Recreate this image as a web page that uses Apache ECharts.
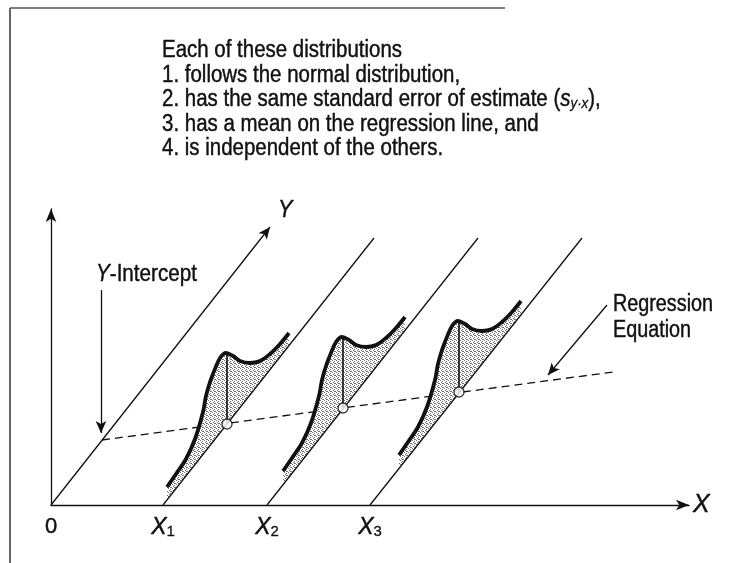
<!DOCTYPE html>
<html><head><meta charset="utf-8">
<script src="https://cdn.jsdelivr.net/npm/echarts@6/dist/echarts.min.js"></script>
<style>html,body{margin:0;padding:0;background:#fff}#c{width:732px;height:563px}</style>
</head><body><div id="c"></div>
<script>
// ---- diagram data (units: reference pixels, origin at the corner of the axes) ----
const xTickValues = [0, 112, 216, 319];
const xTickNames = ['0', '1', '2', '3'];
const yDiagonalArrow = [[0, 0], [219, 278]];
const diagonalStarts = [[112, 0], [216, 0], [319, 0]];
const diagonalEnds = [[323, 267], [427, 267], [531, 267]];
const regressionStart = [51, 65];
const regressionEnd = [562, 133];
const distributionMeans = [[176, 81], [292, 97], [408, 113]];
// normal-curve outline, read as offsets (dx, dy) from each mean point
const curveOffsets = [[-60,-63],[-51,-50],[-41,-35],[-32,-15],[-24,12],[-21,28],[-17,42],[-12,55],[-7,66],[-1,71],[6,68],[13,63],[23,61],[33,63],[43,70],[53,80],[62,91]];
const peakHeight = 71;
const interceptArrow = [[50, 215], [50, 72]];
const regressionArrow = [[556, 200], [497, 130]];
const textLines = [
  'Each of these distributions',
  '1. follows the normal distribution,',
  '2. has the same standard error of estimate ({it|s}{sub|y·x}),',
  '3. has a mean on the regression line, and',
  '4. is independent of the others.'
];

const FONT = "'Liberation Sans','Arial',sans-serif";
const INK = '#111';
const WEIGHT = 0.45;

const pc = document.createElement('canvas'); pc.width = 4; pc.height = 4;
const g = pc.getContext('2d'); g.fillStyle = '#fff'; g.fillRect(0, 0, 4, 4); g.fillStyle = '#707070';
[[0,0],[2,1],[1,2],[3,3],[2,3]].forEach(function (p) { g.fillRect(p[0], p[1], 1, 1); });
const stipple = { type: 'pattern', image: pc, repeat: 'repeat' };

const diagSlope = (diagonalEnds[0][1] - diagonalStarts[0][1]) / (diagonalEnds[0][0] - diagonalStarts[0][0]);

const chart = echarts.init(document.getElementById('c'));
const series = [];

series.push({
  type: 'line', z: 2, data: [regressionStart, regressionEnd], symbol: 'none', silent: true,
  lineStyle: { color: INK, width: 1.3, type: [8, 5] },
  markLine: {
    silent: true, symbol: ['none', 'arrow'], symbolSize: [8, 12], label: { show: false },
    lineStyle: { color: INK, width: 1.3, type: 'solid' },
    data: [
      [{ coord: yDiagonalArrow[0] }, { coord: yDiagonalArrow[1] }],
      [{ coord: interceptArrow[0] }, { coord: interceptArrow[1] }],
      [{ coord: regressionArrow[0] }, { coord: regressionArrow[1] }]
    ]
  }
});

series.push({
  type: 'custom', z: 3, silent: true, data: distributionMeans,
  renderItem: function (params, api) {
    const mx = api.value(0), my = api.value(1);
    const pts = curveOffsets.map(function (o) { return api.coord([mx + o[0], my + o[1]]); });
    const u1 = curveOffsets[curveOffsets.length - 1][0], u0 = curveOffsets[0][0];
    pts.push(api.coord([mx + u1, my + diagSlope * u1]));
    pts.push(api.coord([mx + u0, my + diagSlope * u0]));
    return { type: 'polygon', shape: { points: pts }, style: { fill: stipple, stroke: null } };
  }
});

diagonalStarts.forEach(function (s, i) {
  series.push({ type: 'line', z: 4, silent: true, symbol: 'none', data: [s, diagonalEnds[i]],
    lineStyle: { color: INK, width: 1.3 } });
});

distributionMeans.forEach(function (m) {
  series.push({ type: 'line', z: 5, silent: true, symbol: 'none', smooth: 0.35,
    data: curveOffsets.map(function (o) { return [m[0] + o[0], m[1] + o[1]]; }),
    lineStyle: { color: INK, width: 3.8 } });
  series.push({ type: 'line', z: 5, silent: true, symbol: 'none',
    data: [m, [m[0], m[1] + peakHeight]], lineStyle: { color: INK, width: 1.6 } });
});

series.push({ type: 'scatter', z: 6, silent: true, data: distributionMeans, symbol: 'circle', symbolSize: 10,
  itemStyle: { color: '#fff', borderColor: INK, borderWidth: 1.4 } });

const labelRich = {
  z: { fontFamily: FONT, fontSize: 22, color: INK, textBorderColor: INK, textBorderWidth: WEIGHT },
  x: { fontFamily: FONT, fontSize: 23, fontStyle: 'italic', color: INK, textBorderColor: INK, textBorderWidth: WEIGHT },
  n: { fontFamily: FONT, fontSize: 15, color: INK, verticalAlign: 'bottom', lineHeight: 12, textBorderColor: INK, textBorderWidth: 0.3 }
};

function label(x, y, text, size, sx) {
  return { type: 'text', silent: true, x: x, y: y, scaleX: sx,
    style: { text: text, fontFamily: FONT, fontSize: size, fill: INK, verticalAlign: 'middle', stroke: INK, lineWidth: WEIGHT,
      rich: { it: { fontFamily: FONT, fontSize: size, fontStyle: 'italic', fill: INK, stroke: INK, lineWidth: WEIGHT },
              sub: { fontFamily: FONT, fontSize: 15, fontStyle: 'italic', fill: INK, stroke: INK, lineWidth: 0.3, verticalAlign: 'bottom', lineHeight: 12 } } } };
}

chart.setOption({
  animation: false,
  backgroundColor: '#fff',
  grid: { left: 51, right: 43, top: 209, bottom: 58 },
  xAxis: {
    type: 'value', min: 0, max: 638,
    splitLine: { show: false },
    axisTick: { show: false },
    axisLine: { show: true, onZero: true, symbol: ['none', 'arrow'], symbolSize: [8, 13], lineStyle: { color: INK, width: 1.3 } },
    axisLabel: {
      show: true, customValues: xTickValues, margin: 11, rich: labelRich,
      formatter: function (v) {
        const i = xTickValues.indexOf(v);
        if (i < 0) return '';
        return i === 0 ? '{z|0}' : '{x|X}{n|' + xTickNames[i] + '}';
      }
    },
    name: 'X', nameLocation: 'end', nameGap: 4,
    nameTextStyle: { fontFamily: FONT, fontSize: 25, fontStyle: 'italic', color: INK, textBorderColor: INK, textBorderWidth: WEIGHT, align: 'left', verticalAlign: 'middle', padding: [24, 0, 0, 0] }
  },
  yAxis: {
    type: 'value', min: 0, max: 296,
    splitLine: { show: false }, axisTick: { show: false }, axisLabel: { show: false },
    axisLine: { show: true, symbol: ['none', 'arrow'], symbolSize: [8, 13], lineStyle: { color: INK, width: 1.3 } }
  },
  graphic: [
    { type: 'line', silent: true, shape: { x1: 10, y1: 8, x2: 10, y2: 563 }, style: { stroke: '#333', lineWidth: 1.5 } },
    { type: 'line', silent: true, shape: { x1: 10, y1: 8, x2: 505, y2: 8 }, style: { stroke: '#555', lineWidth: 1.5 } }
  ].concat(textLines.map(function (t, i) {
    return label(162, 51 + i * 24.5, t, 23, 0.89);
  })).concat([
    label(96, 274, '{it|Y}-Intercept', 24, 0.86),
    label(278, 210, '{it|Y}', 24, 0.9),
    label(613, 305, 'Regression', 23, 0.86),
    label(613, 331, 'Equation', 23, 0.86)
  ]),
  series: series
});
</script></body></html>
